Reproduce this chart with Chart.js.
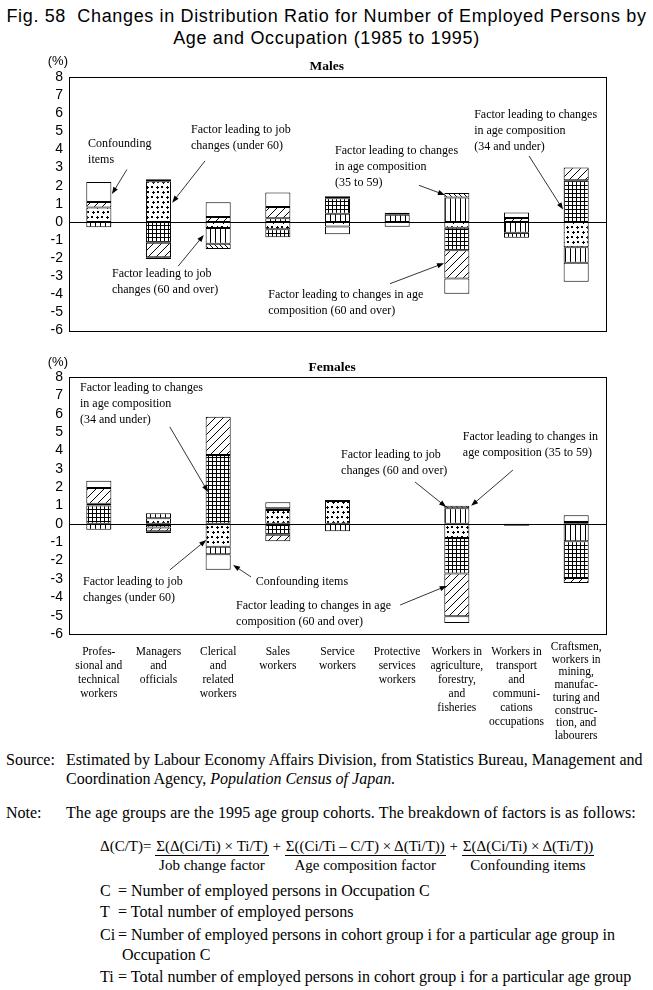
<!DOCTYPE html>
<html><head><meta charset="utf-8">
<script src="https://cdn.jsdelivr.net/npm/chart.js@4.4.1/dist/chart.umd.min.js"></script>
<style>
body{margin:0;background:#fff;width:653px;height:990px;position:relative;overflow:hidden;font-family:"Liberation Serif","Times New Roman",serif;color:#000}
#title{position:absolute;left:0;top:6px;width:653px;text-align:center;font-family:"Liberation Sans",Arial,sans-serif;font-size:18px;line-height:21.5px;letter-spacing:0.65px;white-space:nowrap}
#cm{position:absolute;left:0;top:45px}
#cf{position:absolute;left:0;top:345px}
.t{position:absolute;font-size:16px;line-height:19px;white-space:nowrap}
.f{font-size:15px}
.frac{display:inline-block;text-align:center;vertical-align:top}
.num{display:block;border-bottom:1px solid #000;line-height:17px;padding:0 1px}
.den{display:block;line-height:18px}
.op{display:inline-block;vertical-align:top;line-height:17px}
.sym{display:inline-block;width:14px}
</style></head>
<body>
<div id="title">Fig. 58&nbsp; Changes in Distribution Ratio for Number of Employed Persons by<br>Age and Occupation (1985 to 1995)</div>
<canvas id="cm" width="653" height="300"></canvas>
<canvas id="cf" width="653" height="405"></canvas>

<div class="t" style="left:6px;top:750px">Source:</div>
<div class="t" style="left:66px;top:750px">Estimated by Labour Economy Affairs Division, from Statistics Bureau, Management and</div>
<div class="t" style="left:66px;top:769px">Coordination Agency, <i>Population Census of Japan.</i></div>
<div class="t" style="left:6px;top:803px">Note:</div>
<div class="t" style="left:66px;top:803px;letter-spacing:0.1px">The age groups are the 1995 age group cohorts. The breakdown of factors is as follows:</div>
<div class="t f" style="left:100px;top:838px">
<span class="op">Δ(C/T)=&nbsp;</span><span class="frac"><span class="num">Σ(Δ(Ci/Ti) × Ti/T)</span><span class="den">Job change factor</span></span><span class="op">&nbsp;+&nbsp;</span><span class="frac"><span class="num">Σ((Ci/Ti – C/T) × Δ(Ti/T))</span><span class="den">Age composition factor</span></span><span class="op">&nbsp;+&nbsp;</span><span class="frac"><span class="num">Σ(Δ(Ci/Ti) × Δ(Ti/T))</span><span class="den">Confounding items</span></span>
</div>
<div class="t" style="left:100px;top:881px"><span class="sym">C</span> = Number of employed persons in Occupation C</div>
<div class="t" style="left:100px;top:902px"><span class="sym">T</span> = Total number of employed persons</div>
<div class="t" style="left:100px;top:925px"><span class="sym">Ci</span> = Number of employed persons in cohort group i for a particular age group in</div>
<div class="t" style="left:122px;top:945px">Occupation C</div>
<div class="t" style="left:100px;top:967px"><span class="sym">Ti</span> = Total number of employed persons in cohort group i for a particular age group</div>

<script>
// ---------- DATA ----------
const categories = [
  ["Profes-","sional and","technical","workers"],
  ["Managers","and","officials"],
  ["Clerical","and","related","workers"],
  ["Sales","workers"],
  ["Service","workers"],
  ["Protective","services","workers"],
  ["Workers in","agriculture,","forestry,","and","fisheries"],
  ["Workers in","transport","and","communi-","cations","occupations"],
  ["Craftsmen,","workers in","mining,","manufac-","turing and","construc-","tion, and","labourers"]
];
const seriesNames = [
  "Factor leading to job changes (under 60)",
  "Factor leading to job changes (60 and over)",
  "Factor leading to changes in age composition (34 and under)",
  "Factor leading to changes in age composition (35 to 59)",
  "Factor leading to changes in age composition (60 and over)",
  "Confounding items"
];
const yTickMin = -6, yTickMax = 8, yTickStep = 1;

// Males (percentage points)
const maleJobUnder60   = [0.8, 2.25, -0.34, -0.4, -0.25, 0, -0.32, 0, -1.4];
const maleJob60Over    = [-0.3, 0.1, -0.86, 0.2, 0.45, 0.4, 1.35, -0.6, -0.85];
const maleAge34Under   = [0, -1.15, 0, -0.45, 0.85, 0, -1.25, -0.27, 2.3];
const maleAge35to59    = [0, 0, -0.3, 0, 0, 0.1, 0.25, 0, 0];
const maleAge60Over    = [0.3, -0.8, 0.27, 0.63, 0.12, 0, -1.55, 0.22, 0.7];
const maleConfounding  = [1.1, -0.1, 0.82, 0.8, -0.43, -0.27, -0.85, 0.3, -1.05];

// Females (percentage points)
const femaleJobUnder60  = [0, 0.3, -1.25, 0.75, 1.25, 0, -0.77, 0, 0];
const femaleJob60Over   = [-0.32, 0.28, -0.4, 0.1, -0.4, 0, 0.85, -0.1, -0.95];
const femaleAge34Under  = [1.0, -0.2, 3.75, -0.6, 0, 0, -1.93, 0, -2.0];
const femaleAge35to59   = [0.1, 0, 0, 0, 0, 0, 0.13, 0, 0.1];
const femaleAge60Over   = [0.85, -0.2, 2.08, -0.35, 0, 0, -2.33, 0, -0.27];
const femaleConfounding = [0.4, -0.1, -0.85, 0.33, 0.05, 0, -0.37, 0, 0.37];

// ---------- ANNOTATIONS (in category / value units) ----------
const maleNotes = [
  {text:["Confounding","items"], at:[-0.18,4.29], from:[0.47,2.89], to:[0.22,1.54]},
  {text:["Factor leading to job","changes (under 60)"], at:[1.545,5.09], from:[1.78,3.37], to:[1.23,1.06]},
  {text:["Factor leading to job","changes (60 and over)"], at:[0.22,-2.88], from:[1.33,-2.44], to:[1.76,-0.72]},
  {text:["Factor leading to changes in age","composition (60 and over)"], at:[2.84,-4.01], from:[4.88,-3.41], to:[5.785,-2.28]},
  {text:["Factor leading to changes","in age composition","(35 to 59)"], at:[3.96,3.91], from:[5.365,2.02], to:[5.80,1.49]},
  {text:["Factor leading to changes","in age composition","(34 and under)"], at:[6.29,5.90], from:[7.21,3.64], to:[7.78,0.68]}
];
const femaleNotes = [
  {text:["Factor leading to changes","in age composition","(34 and under)"], at:[-0.315,7.40], from:[1.19,5.28], to:[1.83,1.74]},
  {text:["Factor leading to job","changes (under 60)"], at:[-0.265,-3.16], from:[1.19,-2.51], to:[1.80,-0.88]},
  {text:["Confounding items"], at:[2.63,-3.16], from:[2.55,-2.89], to:[2.25,-2.24]},
  {text:["Factor leading to changes in age","composition (60 and over)"], at:[2.30,-4.47], from:[5.05,-4.42], to:[5.83,-3.38]},
  {text:["Factor leading to job","changes (60 and over)"], at:[4.06,3.75], from:[5.30,2.28], to:[5.82,0.92]},
  {text:["Factor leading to changes in","age composition (35 to 59)"], at:[6.10,4.73], from:[6.94,2.93], to:[6.24,0.98]}
];

// ---------- PATTERNS ----------
function tile(w,h,draw){const c=document.createElement('canvas');c.width=w;c.height=h;const g=c.getContext('2d');g.fillStyle='#fff';g.fillRect(0,0,w,h);g.fillStyle='#000';g.strokeStyle='#000';draw(g,w,h);return g.createPattern(c,'repeat');}
function plus(g,x,y){g.fillRect(x-1,y,3,1);g.fillRect(x,y-1,1,3);}
const patterns = [
  tile(10,10,(g)=>{g.fillRect(1,1,2,2);plus(g,7,2);plus(g,3,7);g.fillRect(7,6,2,2);}),
  tile(5,1,(g)=>{g.fillRect(0,0,1,1);}),
  tile(4,4,(g)=>{g.fillRect(0,0,4,1);g.fillRect(0,0,1,4);}),
  tile(5,5,(g,s)=>{g.lineWidth=1;g.beginPath();g.moveTo(0,0);g.lineTo(s,s);g.moveTo(-1,s-1);g.lineTo(1,s+1);g.moveTo(s-1,-1);g.lineTo(s+1,1);g.stroke();}),
  tile(8,8,(g,s)=>{g.lineWidth=1;g.beginPath();g.moveTo(0,s);g.lineTo(s,0);g.moveTo(-1,1);g.lineTo(1,-1);g.moveTo(s-1,s+1);g.lineTo(s+1,s-1);g.stroke();}),
  '#ffffff'
];

// ---------- PLUGINS ----------
function arrow(ctx,x1,y1,x2,y2){
  const a=Math.atan2(y2-y1,x2-x1), L=7, W=2.6;
  ctx.lineWidth=0.8;ctx.beginPath();ctx.moveTo(x1,y1);ctx.lineTo(x2-Math.cos(a)*L*0.8,y2-Math.sin(a)*L*0.8);ctx.stroke();
  ctx.beginPath();ctx.moveTo(x2,y2);
  ctx.lineTo(x2-Math.cos(a)*L+Math.sin(a)*W, y2-Math.sin(a)*L-Math.cos(a)*W);
  ctx.lineTo(x2-Math.cos(a)*L-Math.sin(a)*W, y2-Math.sin(a)*L+Math.cos(a)*W);
  ctx.closePath();ctx.fill();
}
function makeDecor(panelTitle, titleAt, pctDy, titleDy, notes, showCats){
  return {
    id:'decor',
    afterDatasetsDraw(chart){
      const {ctx, chartArea:a, scales:{x,y}} = chart;
      ctx.save();
      ctx.strokeStyle='#000';ctx.lineWidth=1;
      const y0=Math.round(y.getPixelForValue(0))+0.5;
      ctx.beginPath();ctx.moveTo(a.left,y0);ctx.lineTo(a.right,y0);ctx.stroke();
      ctx.strokeRect(Math.round(a.left)+0.5,Math.round(a.top)+0.5,Math.round(a.right-a.left),Math.round(a.bottom-a.top));
      ctx.restore();
    },
    afterDraw(chart){
      const {ctx, chartArea:a, scales:{x,y}} = chart;
      ctx.save();
      ctx.fillStyle='#000';ctx.strokeStyle='#000';
      ctx.textBaseline='middle';
      ctx.font='13px "Liberation Sans", Arial, sans-serif';ctx.textAlign='right';
      ctx.fillText('(%)', a.left-1, a.top+pctDy);
      ctx.font='bold 13.5px "Liberation Serif", serif';ctx.textAlign='center';
      ctx.fillText(panelTitle, x.getPixelForValue(titleAt), a.top+titleDy);
      ctx.font='12px "Liberation Serif", serif';ctx.textAlign='left';
      notes.forEach(n=>{
        const tx=x.getPixelForValue(n.at[0]), ty=y.getPixelForValue(n.at[1]);
        n.text.forEach((t,j)=>ctx.fillText(t,tx,ty+j*16));
        arrow(ctx,x.getPixelForValue(n.from[0]),y.getPixelForValue(n.from[1]),x.getPixelForValue(n.to[0]),y.getPixelForValue(n.to[1]));
      });
      if(showCats){
        ctx.font='11.5px "Liberation Serif", serif';ctx.textAlign='center';
        categories.forEach((lines,i)=>{
          const px=x.getPixelForValue(i);
          const long=lines.length>6;
          const lh=long?12.7:14, st=a.bottom+(long?13:18);
          lines.forEach((t,j)=>ctx.fillText(t,px,st+j*lh));
        });
      }
      ctx.restore();
    }
  };
}

function makeChart(id, series, padTop, padBottom, decor){
  return new Chart(document.getElementById(id), {
    type:'bar',
    data:{
      labels: categories.map(c=>c.join(' ')),
      datasets: series.map((arr,k)=>({
        label: seriesNames[k],
        data: arr.map(v=>v===0?null:v),
        backgroundColor: patterns[k],
        borderColor:'#000', borderWidth:1, borderSkipped:false,
        barPercentage:0.42, categoryPercentage:1, stack:'s'
      }))
    },
    options:{
      responsive:false, animation:false, devicePixelRatio:1,
      layout:{padding:{top:padTop,bottom:padBottom,left:0,right:47}},
      plugins:{legend:{display:false},tooltip:{enabled:false}},
      scales:{
        x:{stacked:true, display:false},
        y:{stacked:true, min:yTickMin, max:yTickMax,
           ticks:{stepSize:yTickStep, autoSkip:false, color:'#000', padding:6, font:{family:'"Liberation Sans", Arial, sans-serif', size:14}},
           grid:{display:false, drawTicks:false}, border:{display:false},
           afterFit(s){s.width=69;}}
      }
    },
    plugins:[decor]
  });
}

makeChart('cm', [maleJobUnder60, maleJob60Over, maleAge34Under, maleAge35to59, maleAge60Over, maleConfounding], 32, 8,
  makeDecor('Males', 3.82, -16, -10, maleNotes, false));
makeChart('cf', [femaleJobUnder60, femaleJob60Over, femaleAge34Under, femaleAge35to59, femaleAge60Over, femaleConfounding], 32, 116,
  makeDecor('Females', 3.91, -15, -9, femaleNotes, true));
</script>
</body></html>
